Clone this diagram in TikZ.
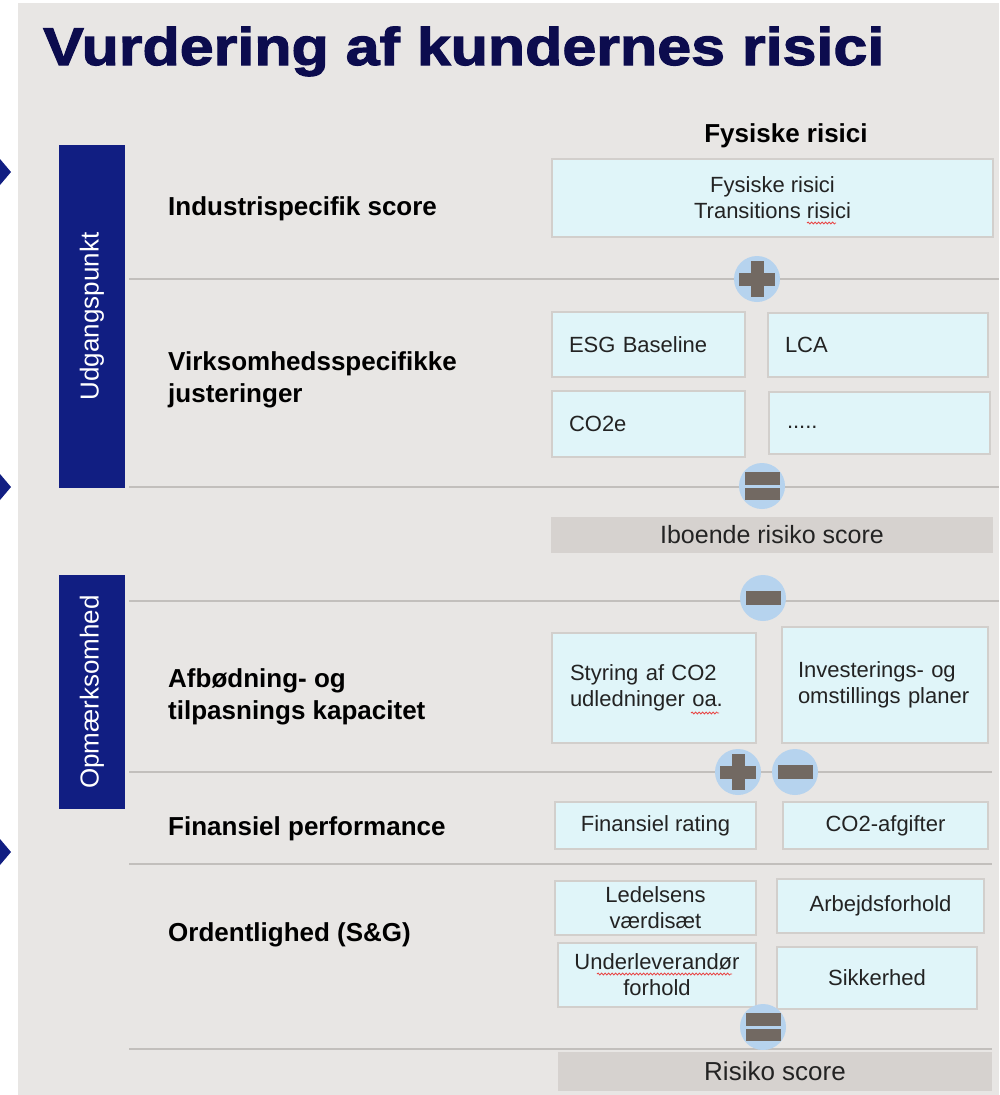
\documentclass[tikz,border=0pt]{standalone}
\usepackage{fontspec}
\setmainfont{Liberation Sans}
\newfontfamily\titlefont{Liberation Sans Bold}[FakeStretch=1.15,FakeBold=2.2]
\usetikzlibrary{positioning, decorations.pathmorphing}

\definecolor{navytitle}{RGB}{12,12,78}
\definecolor{navybar}{RGB}{17,30,130}
\definecolor{slidegray}{RGB}{232,230,228}
\definecolor{rulegray}{RGB}{194,191,188}
\definecolor{boxfill}{RGB}{224,245,249}
\definecolor{boxline}{RGB}{210,207,204}
\definecolor{scorefill}{RGB}{214,210,207}
\definecolor{opfill}{RGB}{182,211,238}
\definecolor{signcol}{RGB}{114,105,98}
\definecolor{boxtext}{RGB}{35,35,35}
\definecolor{spellred}{RGB}{232,70,70}

\tikzset{
  sepline/.style={draw=rulegray, line width=2.5pt},
  cbox/.style={draw=boxline, line width=2.5pt, fill=boxfill, inner sep=0pt, text=boxtext, align=center, font=\fontsize{22}{26}\selectfont},
  lbox/.style={cbox, align=left, inner xsep=17pt},
  scorebox/.style={fill=scorefill, inner sep=0pt, text=boxtext, font=\fontsize{25}{30}\selectfont},
  sidebar/.style={fill=navybar, text=white, rotate=90, inner sep=0pt, font=\fontsize{26}{30}\selectfont},
  rowlabel/.style={anchor=west, inner sep=0pt, align=left, text=black, font=\bfseries\fontsize{26}{32}\selectfont},
  opcirc/.style={circle, fill=opfill, minimum size=46pt, inner sep=0pt},
  plusop/.style={opcirc, path picture={
    \fill[signcol] ([xshift=-18pt, yshift=-6.5pt]path picture bounding box.center) rectangle +(36pt,13pt);
    \fill[signcol] ([xshift=-6.5pt, yshift=-18pt]path picture bounding box.center) rectangle +(13pt,36pt);}},
  minusop/.style={opcirc, path picture={
    \fill[signcol] ([xshift=-17.5pt, yshift=-7pt]path picture bounding box.center) rectangle +(35pt,14pt);}},
  equalop/.style={opcirc, path picture={
    \fill[signcol] ([xshift=-17.5pt, yshift=1.5pt]path picture bounding box.center) rectangle +(35pt,12.5pt);
    \fill[signcol] ([xshift=-17.5pt, yshift=-14pt]path picture bounding box.center) rectangle +(35pt,12.5pt);}},
  spell/.style={draw=spellred, line width=0.8pt, decorate, decoration={snake, amplitude=1pt, segment length=3.5pt}}
}

\begin{document}
\begin{tikzpicture}[x=1pt, y=-1pt]
    \useasboundingbox (0,0) rectangle (999,1095);
    \fill[white] (0,0) rectangle (999,1095);
    \fill[slidegray] (18,3) rectangle (999,1095);

    % side markers
    \fill[navybar] (0,159) -- (11,172) -- (0,185) -- cycle;
    \fill[navybar] (0,474) -- (11,487) -- (0,500) -- cycle;
    \fill[navybar] (0,839) -- (11,852) -- (0,865) -- cycle;

    \node[anchor=base west, inner sep=0pt, text=navytitle, font=\titlefont\fontsize{53}{60}\selectfont] (title) at (43,65) {Vurdering af kundernes risici};

    \node[sidebar, minimum width=343pt, minimum height=66pt] (udg) at (92,316.5) {Udgangspunkt};
    \node[sidebar, minimum width=234pt, minimum height=66pt] (opm) at (92,692) {Opmærksomhed};

    % separators
    \draw[sepline] (129,279) -- (999,279);
    \draw[sepline] (129,487) -- (999,487);
    \draw[sepline] (129,601) -- (999,601);
    \draw[sepline] (129,772) -- (992,772);
    \draw[sepline] (129,864) -- (992,864);
    \draw[sepline] (129,1049) -- (992,1049);

    \node[rowlabel] (ind) at (168,208.5) {Industrispecifik score};
    \node[rowlabel] (virk) at (168,380) {Virksomhedsspecifikke\\justeringer};
    \node[rowlabel] (afb) at (168,696.5) {Afbødning- og\\tilpasnings kapacitet};
    \node[rowlabel] (fin) at (168,828.5) {Finansiel performance};
    \node[rowlabel] (ord) at (168,934.5) {Ordentlighed (S\&G)};

    \node[inner sep=0pt, font=\bfseries\fontsize{26}{30}\selectfont] (fys) at (786,135.5) {Fysiske risici};

    \node[cbox, minimum width=441pt, minimum height=78pt] (phys) at (772.5,198) {Fysiske risici\\Transitions risici};
    \node[lbox, text width=159pt, minimum height=65pt] (esg) at (648.5,344.5) {ESG Baseline};
    \node[lbox, text width=186pt, minimum height=64pt] (lca) at (878,345) {LCA};
    \node[lbox, text width=159pt, minimum height=66pt] (coe) at (648.5,424) {CO2e};
    \node[lbox, text width=185pt, minimum height=62pt, inner xsep=18pt] (more) at (879.5,423) {\vphantom{Ag}.....};
    \node[scorebox, minimum width=442pt, minimum height=36pt, text depth=2pt] (ibo) at (772,535) {Iboende risiko score};

    \node[lbox, text width=168pt, minimum height=110pt, inner xsep=18pt] (styr) at (654,688) {Styring af CO2\\udledninger oa.};
    \node[lbox, text width=174pt, minimum height=116pt, inner xsep=16pt] (inv) at (885,685) {Investerings- og\\omstillings planer};
    \node[cbox, minimum width=201pt, minimum height=47pt] (finr) at (655.5,825.5) {Finansiel rating};
    \node[cbox, minimum width=205pt, minimum height=47pt] (afg) at (885.5,825.5) {CO2-afgifter};
    \node[cbox, minimum width=201pt, minimum height=54pt] (led) at (655.5,908) {Ledelsens\\værdisæt};
    \node[cbox, minimum width=207pt, minimum height=54pt] (arb) at (880.5,906) {Arbejdsforhold};
    \node[cbox, minimum width=198pt, minimum height=64pt] (und) at (657,975) {Underleverandør\\forhold};
    \node[cbox, minimum width=200pt, minimum height=62pt] (sik) at (877,978) {Sikkerhed};
    \node[scorebox, minimum width=434pt, minimum height=39pt, font=\fontsize{26}{30}\selectfont] (ris) at (775,1071.5) {Risiko score};

    % operators
    \node[plusop] (plus1) at (757,279) {};
    \node[equalop] (eq1) at (762,486) {};
    \node[minusop] (min1) at (763,598) {};
    \node[plusop] (plus2) at (738,772) {};
    \node[minusop] (min2) at (795,772) {};
    \node[equalop] (eq2) at (763,1027) {};

    % spell check marks
    \draw[spell] (807,223) -- (836,223);
    \draw[spell] (691,713) -- (719,713);
    \draw[spell] (597,974) -- (732,974);
\end{tikzpicture}
\end{document}
